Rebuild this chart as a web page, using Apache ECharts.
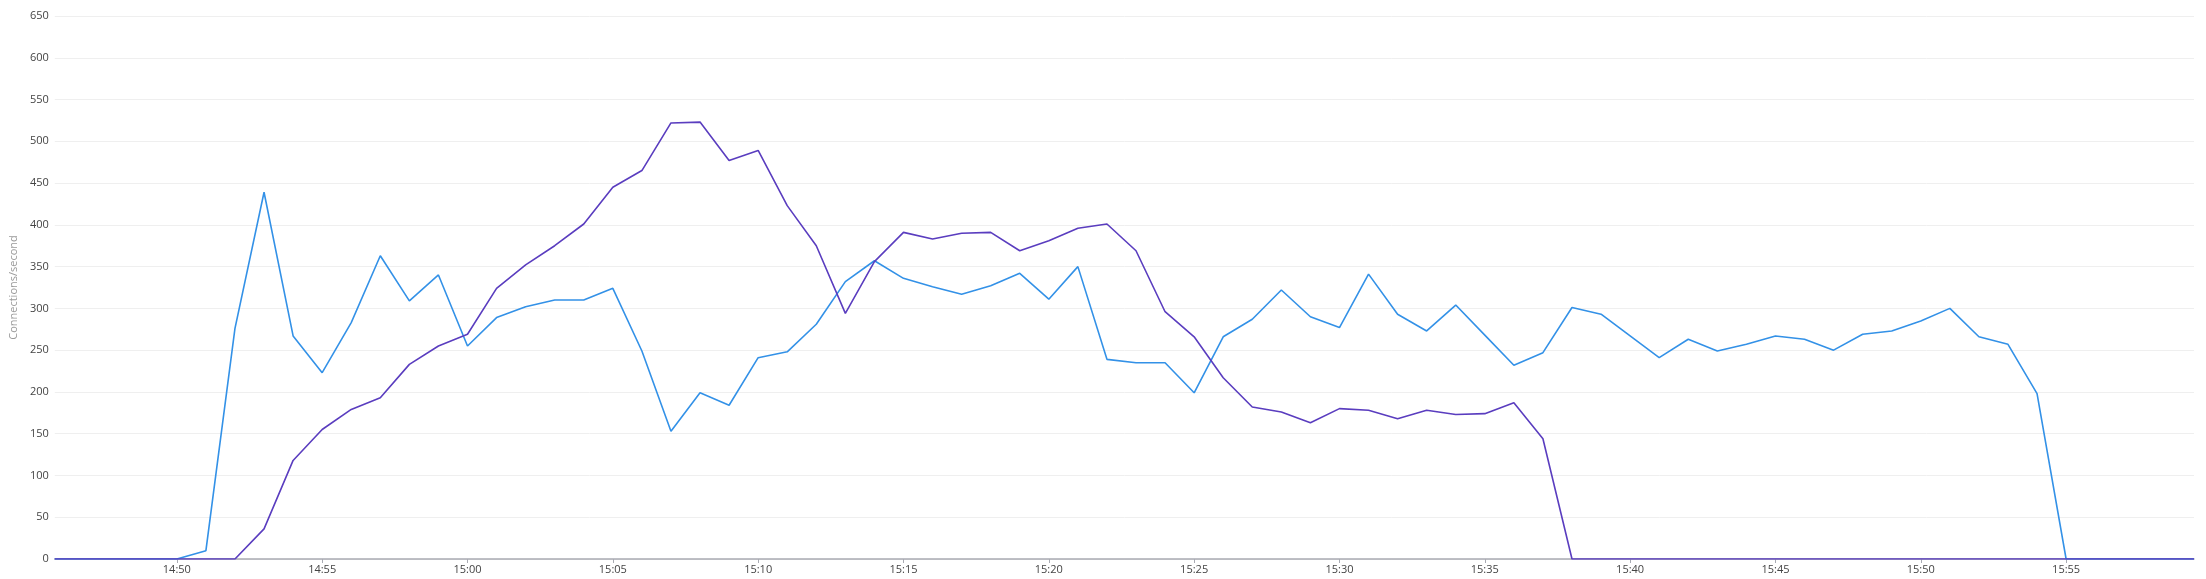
<!DOCTYPE html>
<html>
<head>
<meta charset="utf-8">
<script src="https://cdn.jsdelivr.net/npm/echarts@6/dist/echarts.min.js"></script>
<style>
html,body{margin:0;padding:0;background:#fff;}
#chart{width:2206px;height:579px;}
</style>
</head>
<body>
<div id="chart"></div>
<script>
const axisStart = '14:45:48';
const axisEnd = '15:59:24';
const minutes = [
 '14:46','14:47','14:48','14:49','14:50','14:51','14:52','14:53','14:54','14:55','14:56','14:57','14:58','14:59',
 '15:00','15:01','15:02','15:03','15:04','15:05','15:06','15:07','15:08','15:09',
 '15:10','15:11','15:12','15:13','15:14','15:15','15:16','15:17','15:18','15:19',
 '15:20','15:21','15:22','15:23','15:24','15:25','15:26','15:27','15:28','15:29',
 '15:30','15:31','15:32','15:33','15:34','15:35','15:36','15:37','15:38','15:39',
 '15:40','15:41','15:42','15:43','15:44','15:45','15:46','15:47','15:48','15:49',
 '15:50','15:51','15:52','15:53','15:54','15:55','15:56','15:57','15:58','15:59'
];
const seriesA = [
 0,0,0,0,0,10,276,439,267,223,283,363,309,340,
 255,289,302,310,310,324,249,153,199,184,
 241,248,281,332,357,336,326,317,327,342,
 311,350,239,235,235,199,266,287,322,290,
 277,341,293,273,304,268,232,247,301,293,
 267,241,263,249,257,267,263,250,269,273,
 285,300,266,257,198,0,0,0,0,0
];
const seriesB = [
 0,0,0,0,0,0,0,36,118,155,179,193,233,255,
 269,324,352,375,401,445,465,522,523,477,
 489,423,375,294,356,391,383,390,391,369,
 381,396,401,369,296,266,217,182,176,163,
 180,178,168,178,173,174,187,144,0,0,
 0,0,0,0,0,0,0,0,0,0,
 0,0,0,0,0,0,0,0,0,0
];
const xTickLabels = ['14:50','14:55','15:00','15:05','15:10','15:15','15:20','15:25','15:30','15:35','15:40','15:45','15:50','15:55'];
const yTicks = {min: 0, max: 650, interval: 50};
const yName = 'Connections/second';

// time in seconds since midnight
function ts(hm){
  const p = hm.split(':').map(Number);
  return p[0]*3600 + p[1]*60 + (p[2]||0);
}
function build(vals){
  const d = [[ts(axisStart),0]];
  minutes.forEach((m,i)=>d.push([ts(m),vals[i]]));
  d.push([ts(axisEnd),0]);
  return d;
}
const tickVals = xTickLabels.map(ts);
function fmt(v){
  const h = Math.floor(v/3600), m = Math.round((v - h*3600)/60);
  return String(h).padStart(2,'0')+':'+String(m).padStart(2,'0');
}

const chart = echarts.init(document.getElementById('chart'), null, {renderer:'canvas'});
chart.setOption({
  animation:false,
  textStyle:{fontFamily:'"Open Sans", "Noto Sans", sans-serif'},
  grid:{left:51,right:12,top:16,bottom:20,containLabel:false},
  xAxis:{
    type:'value',
    min:ts(axisStart),
    max:ts(axisEnd),
    axisLine:{show:true,onZero:false,lineStyle:{color:'#a9abb3',width:1.5}},
    axisTick:{show:true,length:4,lineStyle:{color:'#a9abb3'},customValues:tickVals},
    axisLabel:{formatter:fmt,color:'#444',fontSize:11,margin:5,showMinLabel:true,showMaxLabel:true,customValues:tickVals},
    splitLine:{show:false}
  },
  yAxis:{
    type:'value',
    min:yTicks.min,max:yTicks.max,interval:yTicks.interval,
    name:yName,
    nameLocation:'middle',
    nameGap:29,
    nameTextStyle:{color:'#9a9a9a',fontSize:11},
    axisLine:{show:false},
    axisTick:{show:false},
    axisLabel:{color:'#444',fontSize:11,margin:6},
    splitLine:{lineStyle:{color:'#efefef',width:1}}
  },
  series:[
    {type:'line',name:'A',data:build(seriesA),showSymbol:false,symbol:'none',
     lineStyle:{color:'#3391e7',width:1.6},itemStyle:{color:'#3391e7'}},
    {type:'line',name:'B',data:build(seriesB),showSymbol:false,symbol:'none',
     lineStyle:{color:'#5a3dbf',width:1.6},itemStyle:{color:'#5a3dbf'}}
  ]
});
</script>
</body>
</html>
